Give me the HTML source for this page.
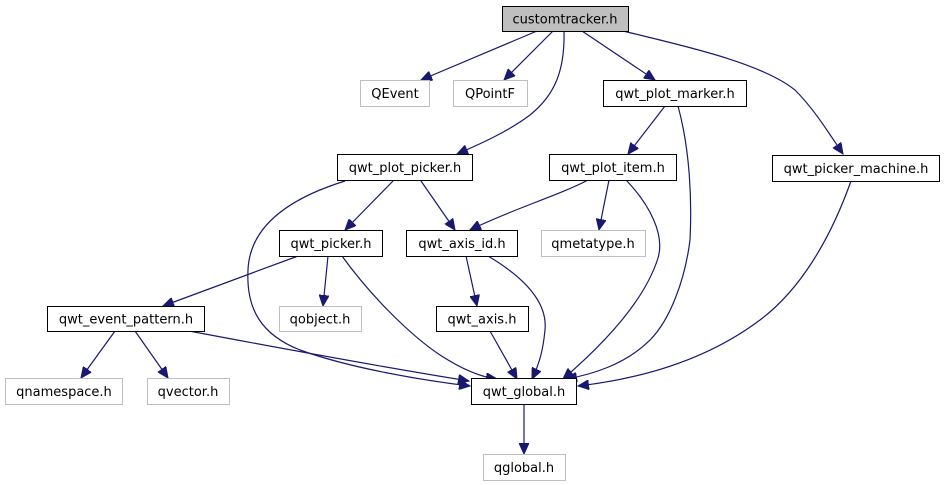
<!DOCTYPE html>
<html><head><meta charset="utf-8"><style>
body{margin:0;background:#fff;}
svg{display:block;}
text{font-family:"DejaVu Sans","Liberation Sans",sans-serif;font-size:13px;fill:#000;}
</style></head><body>
<svg width="945" height="485" viewBox="0 0 945 485" xmlns="http://www.w3.org/2000/svg">
<defs>
<marker id="a" markerWidth="12" markerHeight="10" refX="11" refY="5" orient="auto" markerUnits="userSpaceOnUse">
<path d="M0,0 L11,5 L0,10 Z" fill="#191970" stroke="#191970"/>
</marker>
</defs>
<g fill="none" stroke="#191970" stroke-width="1.2" marker-end="url(#a)">
<path d="M537,31 L421,80"/>
<path d="M553,31 L504,80"/>
<path d="M564,31 C565,70 555,95 530,115 C510,130 485,142 457,154"/>
<path d="M582,31 L655,80"/>
<path d="M623,31 C680,45 760,62 795,90 C815,110 830,135 843,154"/>
<path d="M665,106 L628,154"/>
<path d="M678,106 C690,150 692,200 690,240 C685,280 670,320 650,340 C625,365 590,375 566,379"/>
<path d="M851,181 C830,240 800,290 760,320 C700,365 630,380 578,386"/>
<path d="M588,180 C560,195 510,210 470,230"/>
<path d="M609,180 L599,230"/>
<path d="M626,180 C650,205 665,235 658,258 C648,290 620,330 563,379"/>
<path d="M345,181 C300,195 250,220 248,270 C246,310 262,335 300,350 C350,368 420,380 470,386"/>
<path d="M393,181 L345,230"/>
<path d="M421,181 L455,230"/>
<path d="M298,256 L163,306"/>
<path d="M328,256 L323,306"/>
<path d="M342,256 C370,295 410,335 440,355 C460,368 480,377 497,379"/>
<path d="M466,256 L477,306"/>
<path d="M488,256 C520,275 548,300 545,330 C543,350 540,362 532,379"/>
<path d="M490,331 L517,379"/>
<path d="M189,331 C290,350 400,370 469,381"/>
<path d="M115,331 L81,378"/>
<path d="M135,331 L168,378"/>
<path d="M524,404 L524,454"/>
</g>
<g stroke-width="1">
<rect x="502.5" y="6.5" width="126" height="25" fill="#bfbfbf" stroke="#000"/>
<rect x="360.5" y="80.5" width="69" height="26" fill="#fff" stroke="#bfbfbf"/>
<rect x="453.5" y="80.5" width="74" height="26" fill="#fff" stroke="#bfbfbf"/>
<rect x="603.5" y="80.5" width="143" height="26" fill="#fff" stroke="#000"/>
<rect x="337.5" y="154.5" width="135" height="26" fill="#fff" stroke="#000"/>
<rect x="549.5" y="154.5" width="127" height="26" fill="#fff" stroke="#000"/>
<rect x="772.5" y="155.5" width="167" height="26" fill="#fff" stroke="#000"/>
<rect x="279.5" y="230.5" width="103" height="26" fill="#fff" stroke="#000"/>
<rect x="406.5" y="230.5" width="111" height="26" fill="#fff" stroke="#000"/>
<rect x="541.5" y="230.5" width="104" height="26" fill="#fff" stroke="#bfbfbf"/>
<rect x="47.5" y="306.5" width="157" height="25" fill="#fff" stroke="#000"/>
<rect x="279.5" y="306.5" width="82" height="25" fill="#fff" stroke="#bfbfbf"/>
<rect x="436.5" y="306.5" width="92" height="25" fill="#fff" stroke="#000"/>
<rect x="5.5" y="378.5" width="117" height="26" fill="#fff" stroke="#bfbfbf"/>
<rect x="147.5" y="378.5" width="82" height="26" fill="#fff" stroke="#bfbfbf"/>
<rect x="471.5" y="378.5" width="105" height="26" fill="#fff" stroke="#000"/>
<rect x="483.5" y="454.5" width="82" height="26" fill="#fff" stroke="#bfbfbf"/>
</g>
<g text-anchor="middle">
<text x="565" y="23.5">customtracker.h</text>
<text x="395" y="98">QEvent</text>
<text x="490" y="98">QPointF</text>
<text x="675" y="98">qwt_plot_marker.h</text>
<text x="405" y="172">qwt_plot_picker.h</text>
<text x="613" y="172">qwt_plot_item.h</text>
<text x="856" y="173">qwt_picker_machine.h</text>
<text x="331" y="248">qwt_picker.h</text>
<text x="462" y="248">qwt_axis_id.h</text>
<text x="593" y="248">qmetatype.h</text>
<text x="126" y="323.5">qwt_event_pattern.h</text>
<text x="320" y="323.5">qobject.h</text>
<text x="482" y="323.5">qwt_axis.h</text>
<text x="64" y="396">qnamespace.h</text>
<text x="188" y="396">qvector.h</text>
<text x="524" y="396">qwt_global.h</text>
<text x="524" y="472">qglobal.h</text>
</g>
</svg>
</body></html>
